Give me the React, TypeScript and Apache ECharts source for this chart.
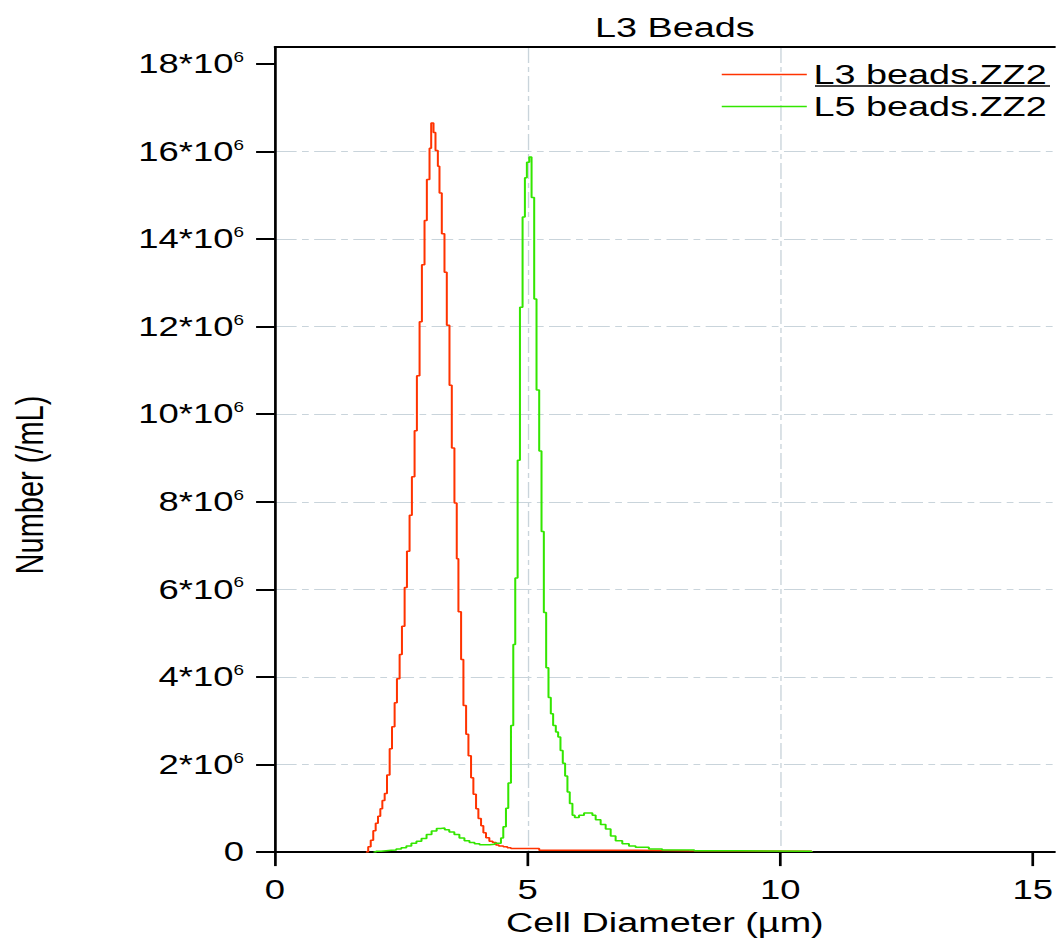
import { useEffect, useRef } from "react";
import * as echarts from "echarts";

// ---- data (diameters in µm, counts in millions per mL; histogram bins start at each diameter)
const redDiameters = [
  1.8, 1.845, 1.895, 1.945, 1.993, 2.039, 2.085, 2.125, 2.171, 2.217, 2.27, 2.316, 2.368, 2.414,
  2.467, 2.513, 2.566, 2.612, 2.664, 2.71, 2.763, 2.809, 2.862, 2.908, 2.96, 3.006, 3.059, 3.092,
  3.138, 3.177, 3.224, 3.256, 3.302, 3.355, 3.401, 3.454, 3.5, 3.552, 3.598, 3.631, 3.684, 3.73,
  3.783, 3.829, 3.881, 3.927, 3.98, 4.026, 4.079, 4.125, 4.177, 4.243, 4.309, 4.375, 4.43, 4.52,
  4.6, 4.67, 5.23, 7.14, 8.2, 10.62,
];
const redCounts = [
  0, 0.12, 0.27, 0.49, 0.66, 0.82, 0.99, 1.18, 1.34, 1.76, 2.36, 2.86, 3.41, 3.96,
  4.51, 5.16, 6.04, 6.87, 7.69, 8.57, 9.62, 10.88, 12.11, 13.41, 14.42, 15.36, 16.07, 16.65,
  16.43, 16.02, 15.66, 15.05, 14.12, 13.24, 12.03, 10.66, 9.23, 7.97, 6.7, 5.49, 4.4, 3.35,
  2.69, 2.2, 1.7, 1.32, 0.99, 0.77, 0.6, 0.44, 0.33, 0.25, 0.22, 0.16, 0.14, 0.12,
  0.1, 0.08, 0.04, 0.03, 0.02, 0,
];

const greenDiameters = [
  1.95, 2.0, 2.1, 2.2, 2.3, 2.4, 2.5, 2.6, 2.7, 2.8, 2.9, 3.0, 3.1, 3.2, 3.28, 3.36, 3.45, 3.55,
  3.65, 3.75, 3.85, 3.95, 4.05, 4.15, 4.25, 4.35, 4.473, 4.519, 4.572, 4.618, 4.671, 4.717, 4.756,
  4.803, 4.849, 4.901, 4.947, 4.986, 5.033, 5.079, 5.131, 5.177, 5.23, 5.276, 5.322, 5.368, 5.414,
  5.46, 5.506, 5.559, 5.605, 5.651, 5.697, 5.743, 5.789, 5.835, 5.888, 5.934, 6.019, 6.118, 6.217,
  6.283, 6.348, 6.447, 6.546, 6.645, 6.743, 6.875, 7.007, 7.138, 7.27, 7.401, 7.664, 8.3, 9.2, 10.62,
];
const greenCounts = [
  0, 0.02, 0.03, 0.04, 0.05, 0.07, 0.1, 0.14, 0.2, 0.25, 0.31, 0.4, 0.48, 0.54, 0.55, 0.51, 0.46, 0.4,
  0.32, 0.26, 0.22, 0.19, 0.17, 0.17, 0.18, 0.2, 0.32, 0.58, 1.0, 1.58, 2.89, 4.74, 6.26,
  8.95, 12.44, 14.5, 15.4, 15.75, 15.87, 14.95, 12.63, 10.55, 9.16, 7.32, 5.47, 4.21, 3.53,
  3.16, 2.89, 2.74, 2.63, 2.32, 2.03, 1.74, 1.37, 1.11, 0.84, 0.79, 0.84, 0.89, 0.89,
  0.84, 0.74, 0.63, 0.53, 0.37, 0.26, 0.19, 0.14, 0.11, 0.11, 0.07, 0.05, 0.03, 0.02, 0,
];

const seriesNames = ["L3 beads.ZZ2", "L5 beads.ZZ2"];
const xTicks = [0, 5, 10, 15];
const yTicks = [0, 2e6, 4e6, 6e6, 8e6, 10e6, 12e6, 14e6, 16e6, 18e6];

// ---- layout (the reference is horizontally stretched; we render narrower and scale in X)
const S = 1.35;
const PAGE_W = 1057;
const PAGE_H = 941;
const CW = PAGE_W / S;
const FONT = '"Liberation Sans", Arial, sans-serif';

export default function App() {
  const ref = useRef<HTMLDivElement>(null);

  useEffect(() => {
    const chart = echarts.init(ref.current!, null, { renderer: "svg" });
    const redData = redDiameters.map((d, i) => [d, redCounts[i] * 1e6]);
    const greenData = greenDiameters.map((d, i) => [d, greenCounts[i] * 1e6]);
    const gridLeft = 275 / S;
    const xMax = (CW - gridLeft) / (50.67 / S);
    const yMax = 18e6 + ((64 - 47) / 88.44) * 2e6;

    chart.setOption({
      animation: false,
      backgroundColor: "#fff",
      textStyle: { fontFamily: FONT, color: "#000" },
      title: {
        text: "L3 Beads",
        left: 668 / S,
        top: 8,
        textAlign: "center",
        textStyle: { fontFamily: FONT, fontSize: 28, fontWeight: "normal", color: "#000" },
      },
      legend: {
        orient: "vertical",
        left: 715 / S,
        top: 53.5,
        icon: "rect",
        itemWidth: 63,
        itemHeight: 1.6,
        itemGap: 0,
        data: seriesNames,
        textStyle: { fontFamily: FONT, fontSize: 28, lineHeight: 23, color: "#000", padding: [0, 0, 9, 0] },
      },
      grid: { left: gridLeft, right: 0, top: 47, bottom: 81, containLabel: false },
      xAxis: [
        {
          type: "value",
          min: 0,
          max: xMax,
          interval: 5,
          position: "bottom",
          name: "Cell Diameter (µm)",
          nameLocation: "middle",
          nameGap: 50,
          nameTextStyle: { fontFamily: FONT, fontSize: 28, color: "#000" },
          axisLine: { show: true, onZero: false, lineStyle: { color: "#000", width: 2 } },
          axisTick: { show: true, inside: false, length: 14, customValues: xTicks, lineStyle: { color: "#000", width: 2 } },
          axisLabel: { customValues: xTicks, margin: 24, fontFamily: FONT, fontSize: 27, color: "#000" },
          splitLine: {
            show: true,
            showMinLine: false,
            showMaxLine: false,
            lineStyle: { color: "#c9d4db", width: 1, type: [16, 4, 5, 4] },
          },
        },
        {
          type: "value",
          min: 0,
          max: xMax,
          position: "top",
          axisLine: { show: true, onZero: false, lineStyle: { color: "#000", width: 2 } },
          axisTick: { show: false },
          axisLabel: { show: false },
          splitLine: { show: false },
        },
      ],
      yAxis: {
        type: "value",
        min: 0,
        max: yMax,
        interval: 2e6,
        axisLine: { show: true, onZero: false, lineStyle: { color: "#000", width: 2 } },
        axisTick: { show: true, inside: false, length: 14, customValues: yTicks, lineStyle: { color: "#000", width: 2 } },
        axisLabel: {
          customValues: yTicks,
          margin: 23,
          formatter: (v: number) => (v === 0 ? "{a|0}" : `{a|${Math.round(v / 1e6)}*10}{b|6}`),
          rich: {
            a: { fontFamily: FONT, fontSize: 27, lineHeight: 27, color: "#000" },
            b: { fontFamily: FONT, fontSize: 14, lineHeight: 14, verticalAlign: "top", color: "#000" },
          },
        },
        splitLine: {
          show: true,
          showMinLine: false,
          showMaxLine: false,
          lineStyle: { color: "#c9d4db", width: 1, type: [16, 4, 5, 4] },
        },
      },
      graphic: [
        {
          type: "text",
          x: 22,
          y: 485,
          rotation: Math.PI / 2,
          style: {
            text: "Number (/mL)",
            font: `29px ${FONT}`,
            fill: "#000",
            textAlign: "center",
            textVerticalAlign: "middle",
          },
        },
        {
          type: "line",
          shape: { x1: 815 / S, y1: 86, x2: 1050 / S, y2: 86 },
          style: { stroke: "#000", lineWidth: 1.5 },
        },
      ],
      series: [
        {
          type: "line",
          name: seriesNames[0],
          data: redData,
          step: "end",
          symbol: "none",
          color: "#ff3300",
          lineStyle: { color: "#ff3300", width: 1.5 },
        },
        {
          type: "line",
          name: seriesNames[1],
          data: greenData,
          step: "end",
          symbol: "none",
          color: "#33e600",
          lineStyle: { color: "#33e600", width: 1.5 },
        },
      ],
    });
    return () => chart.dispose();
  }, []);

  return (
    <div
      style={{
        position: "absolute",
        left: 0,
        top: 0,
        width: PAGE_W,
        height: PAGE_H,
        overflow: "hidden",
        background: "#fff",
      }}
    >
      <div
        ref={ref}
        style={{ width: CW, height: PAGE_H, transform: `scaleX(${S})`, transformOrigin: "0 0" }}
      />
    </div>
  );
}
